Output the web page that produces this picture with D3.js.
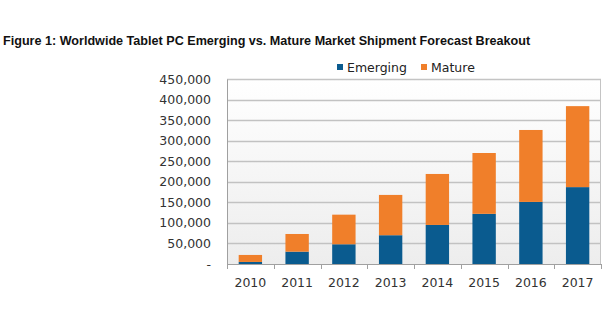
<!DOCTYPE html>
<html>
<head>
<meta charset="utf-8">
<script src="https://cdn.jsdelivr.net/npm/d3@7"></script>
<style>
  body { margin: 0; background: #fff; }
</style>
</head>
<body>
<div id="chart"></div>
<script>
const years = ["2010", "2011", "2012", "2013", "2014", "2015", "2016", "2017"];
const emerging = [5000, 30000, 48000, 70000, 95000, 122000, 151000, 187000];
const mature = [17000, 43000, 72000, 98000, 124000, 148000, 175000, 197000];
const yTicks = [0, 50000, 100000, 150000, 200000, 250000, 300000, 350000, 400000, 450000];
const seriesNames = ["Emerging", "Mature"];
const colors = ["#0a5b8f", "#f07f2a"];

const width = 605, height = 325;
const margin = { top: 79, right: 4, bottom: 61, left: 227 };
const innerW = width - margin.left - margin.right;
const innerH = height - margin.top - margin.bottom;

const svg = d3.select("#chart")
  .append("svg")
  .attr("width", width)
  .attr("height", height);

const defs = svg.append("defs");
const grad = defs.append("linearGradient")
  .attr("id", "bg")
  .attr("x1", 0).attr("y1", 0).attr("x2", 0).attr("y2", 1);
grad.append("stop").attr("offset", "0%").attr("stop-color", "#ffffff");
grad.append("stop").attr("offset", "100%").attr("stop-color", "#ededed");

svg.append("text")
  .attr("x", 3)
  .attr("y", 45)
  .text("Figure 1: Worldwide Tablet PC Emerging vs. Mature Market Shipment Forecast Breakout")
  .style("font-family", "'Liberation Sans', Arial, sans-serif")
  .style("font-weight", "bold")
  .style("font-size", "12.6px")
  .attr("fill", "#111");

const g = svg.append("g").attr("transform", `translate(${margin.left},${margin.top})`);

const x = d3.scaleBand().domain(years).range([0, innerW]).paddingInner(0.5).paddingOuter(0.25);
const y = d3.scaleLinear().domain([0, 450000]).range([innerH, 0]);

g.append("rect")
  .attr("width", innerW)
  .attr("height", innerH)
  .attr("fill", "url(#bg)");

g.append("g")
  .selectAll("line")
  .data(yTicks.filter(d => d > 0))
  .enter()
  .append("line")
  .attr("x1", 0)
  .attr("x2", innerW)
  .attr("y1", d => Math.round(y(d)) + 0.5)
  .attr("y2", d => Math.round(y(d)) + 0.5)
  .attr("stroke", "#c2c2c2")
  .attr("stroke-width", 1.3);

const stackData = years.map((yr, i) => ({ year: yr, Emerging: emerging[i], Mature: mature[i] }));
const stack = d3.stack().keys(seriesNames)(stackData);

g.append("g")
  .selectAll("g")
  .data(stack)
  .enter()
  .append("g")
  .attr("fill", (d, i) => colors[i])
  .selectAll("rect")
  .data(d => d)
  .enter()
  .append("rect")
  .attr("x", d => x(d.data.year))
  .attr("width", x.bandwidth())
  .attr("y", d => y(d[1]))
  .attr("height", d => y(d[0]) - y(d[1]));

// plot frame
g.append("rect")
  .attr("x", 0.5)
  .attr("y", 0.5)
  .attr("width", innerW - 1)
  .attr("height", innerH)
  .attr("fill", "none")
  .attr("stroke", "#c4c4c4")
  .attr("stroke-width", 1);

// y axis
const yAxis = g.append("g")
  .call(d3.axisLeft(y).tickValues(yTicks).tickSize(0).tickPadding(16)
    .tickFormat(d => d === 0 ? "-" : d3.format(",")(d)));
yAxis.select(".domain").attr("stroke", "#a0a0a0");
yAxis.selectAll("text")
  .style("font-family", "Verdana, 'DejaVu Sans', sans-serif")
  .style("font-size", "12.5px")
  .attr("fill", "#333");

// x axis, ticks sit at category boundaries
const xAxis = g.append("g")
  .attr("transform", `translate(0,${innerH})`)
  .call(d3.axisBottom(x).tickSize(0).tickPadding(14));
xAxis.select(".domain").attr("stroke", "#a0a0a0");
xAxis.selectAll("text")
  .style("font-family", "Verdana, 'DejaVu Sans', sans-serif")
  .style("font-size", "12.5px")
  .attr("fill", "#333");

const step = x.step();
g.append("g")
  .selectAll("line")
  .data(d3.range(years.length + 1))
  .enter()
  .append("line")
  .attr("x1", d => Math.round(d * step) + 0.5)
  .attr("x2", d => Math.round(d * step) + 0.5)
  .attr("y1", innerH)
  .attr("y2", innerH + 5)
  .attr("stroke", "#a0a0a0");

// legend
const legend = svg.append("g").attr("transform", "translate(337,62)");
const items = legend.selectAll("g")
  .data(seriesNames)
  .enter()
  .append("g")
  .attr("transform", (d, i) => `translate(${i * 84},0)`);
items.append("rect")
  .attr("y", 2)
  .attr("width", 6)
  .attr("height", 6)
  .attr("fill", (d, i) => colors[i]);
items.append("text")
  .attr("x", 10)
  .attr("y", 10)
  .text(d => d)
  .style("font-family", "Verdana, 'DejaVu Sans', sans-serif")
  .style("font-size", "12.5px")
  .attr("fill", "#222");
</script>
</body>
</html>
